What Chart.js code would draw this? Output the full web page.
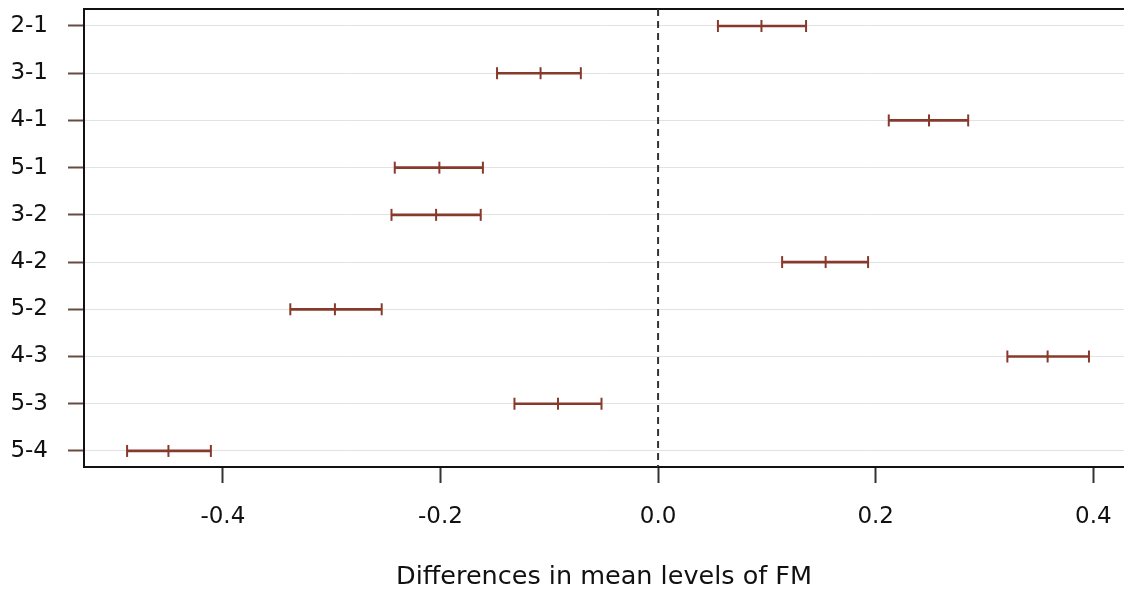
<!DOCTYPE html>
<html>
<head>
<meta charset="utf-8">
<script src="https://cdn.jsdelivr.net/npm/chart.js@4.4.1/dist/chart.umd.min.js"></script>
<style>
html,body{margin:0;padding:0;background:#fff;overflow:hidden;}
#wrap{position:relative;width:1124px;height:601px;}
</style>
</head>
<body>
<div id="wrap"><canvas id="c" width="1124" height="601"></canvas></div>
<script>
// Data (Tukey HSD style comparisons)
const comparisons = ['2-1','3-1','4-1','5-1','3-2','4-2','5-2','4-3','5-3','5-4'];
const lower = [0.055, -0.148, 0.212, -0.242, -0.245, 0.114, -0.338, 0.321, -0.132, -0.488];
const diff  = [0.095, -0.108, 0.249, -0.201, -0.204, 0.154, -0.297, 0.358, -0.092, -0.450];
const upper = [0.136, -0.071, 0.285, -0.161, -0.163, 0.193, -0.254, 0.396, -0.052, -0.411];
const xTicks = [-0.4, -0.2, 0.0, 0.2, 0.4];
const xTitle = 'Differences in mean levels of FM';

const brown = '#873a2c';
const font = {family: '"DejaVu Sans", "Liberation Sans", Arial, sans-serif', size: 23};

const barData = comparisons.map((c, i) => ({x: [lower[i], upper[i]], y: i}));
const capData = [];
comparisons.forEach((c, i) => {
  capData.push({x: lower[i], y: i});
  capData.push({x: diff[i], y: i});
  capData.push({x: upper[i], y: i});
});

new Chart(document.getElementById('c'), {
  type: 'bar',
  data: {
    datasets: [
      {
        type: 'bar', indexAxis: 'y', data: barData,
        backgroundColor: brown, borderWidth: 0, barThickness: 2,
        xAxisID: 'x', yAxisID: 'y', order: 2
      },
      {
        type: 'scatter', data: capData,
        pointStyle: 'line', rotation: 90, pointRadius: 6,
        borderColor: brown, backgroundColor: brown, pointBorderWidth: 2,
        xAxisID: 'x', yAxisID: 'y', order: 1
      },
      {
        type: 'line', data: [{x: 0, y: -0.36}, {x: 0, y: 9.34}],
        borderColor: '#333', borderWidth: 2, borderDash: [7, 5],
        pointRadius: 0, xAxisID: 'x', yAxisID: 'y', order: 3
      }
    ]
  },
  options: {
    responsive: false,
    animation: false,
    layout: {autoPadding: false, padding: {top: 0, right: 0, left: 0, bottom: 0}},
    plugins: {legend: {display: false}, tooltip: {enabled: false}},
    scales: {
      x: {
        type: 'linear', position: 'bottom', offset: false,
        min: -0.5276, max: 0.4282,
        afterBuildTicks: s => { s.ticks = xTicks.map(v => ({value: v})); },
        ticks: {
          color: '#111', font: font, padding: 20, maxRotation: 0,
          callback: v => Number(v).toFixed(1)
        },
        grid: {offset: false, drawOnChartArea: false, tickLength: 16, tickColor: '#333', tickWidth: 2},
        border: {display: true, color: '#111', width: 2},
        title: {display: true, text: xTitle, color: '#111', font: {family: font.family, size: 25.5}, padding: {top: 0, bottom: 8}},
        afterFit: s => { s.height = 134; s.paddingLeft = 0; s.paddingRight = 0; }
      },
      x2: {
        type: 'linear', position: 'top', offset: false, min: -0.5276, max: 0.4282,
        ticks: {display: false},
        grid: {offset: false, drawOnChartArea: false, drawTicks: false},
        border: {display: true, color: '#111', width: 2},
        afterFit: s => { s.height = 9; s.paddingLeft = 0; s.paddingRight = 0; }
      },
      y: {
        type: 'linear', reverse: true, offset: false, min: -0.36, max: 9.34,
        afterBuildTicks: s => { s.ticks = comparisons.map((c, i) => ({value: i})); },
        ticks: {
          color: '#111', font: font, padding: 20,
          callback: v => comparisons[v]
        },
        grid: {offset: false, color: '#e2e2e2', lineWidth: 1, tickLength: 16, tickColor: '#6a4a40', tickWidth: 2},
        border: {display: true, color: '#111', width: 2},
        afterFit: s => { s.width = 84; s.paddingTop = 0; s.paddingBottom = 0; }
      }
    }
  }
});
</script>
</body>
</html>
